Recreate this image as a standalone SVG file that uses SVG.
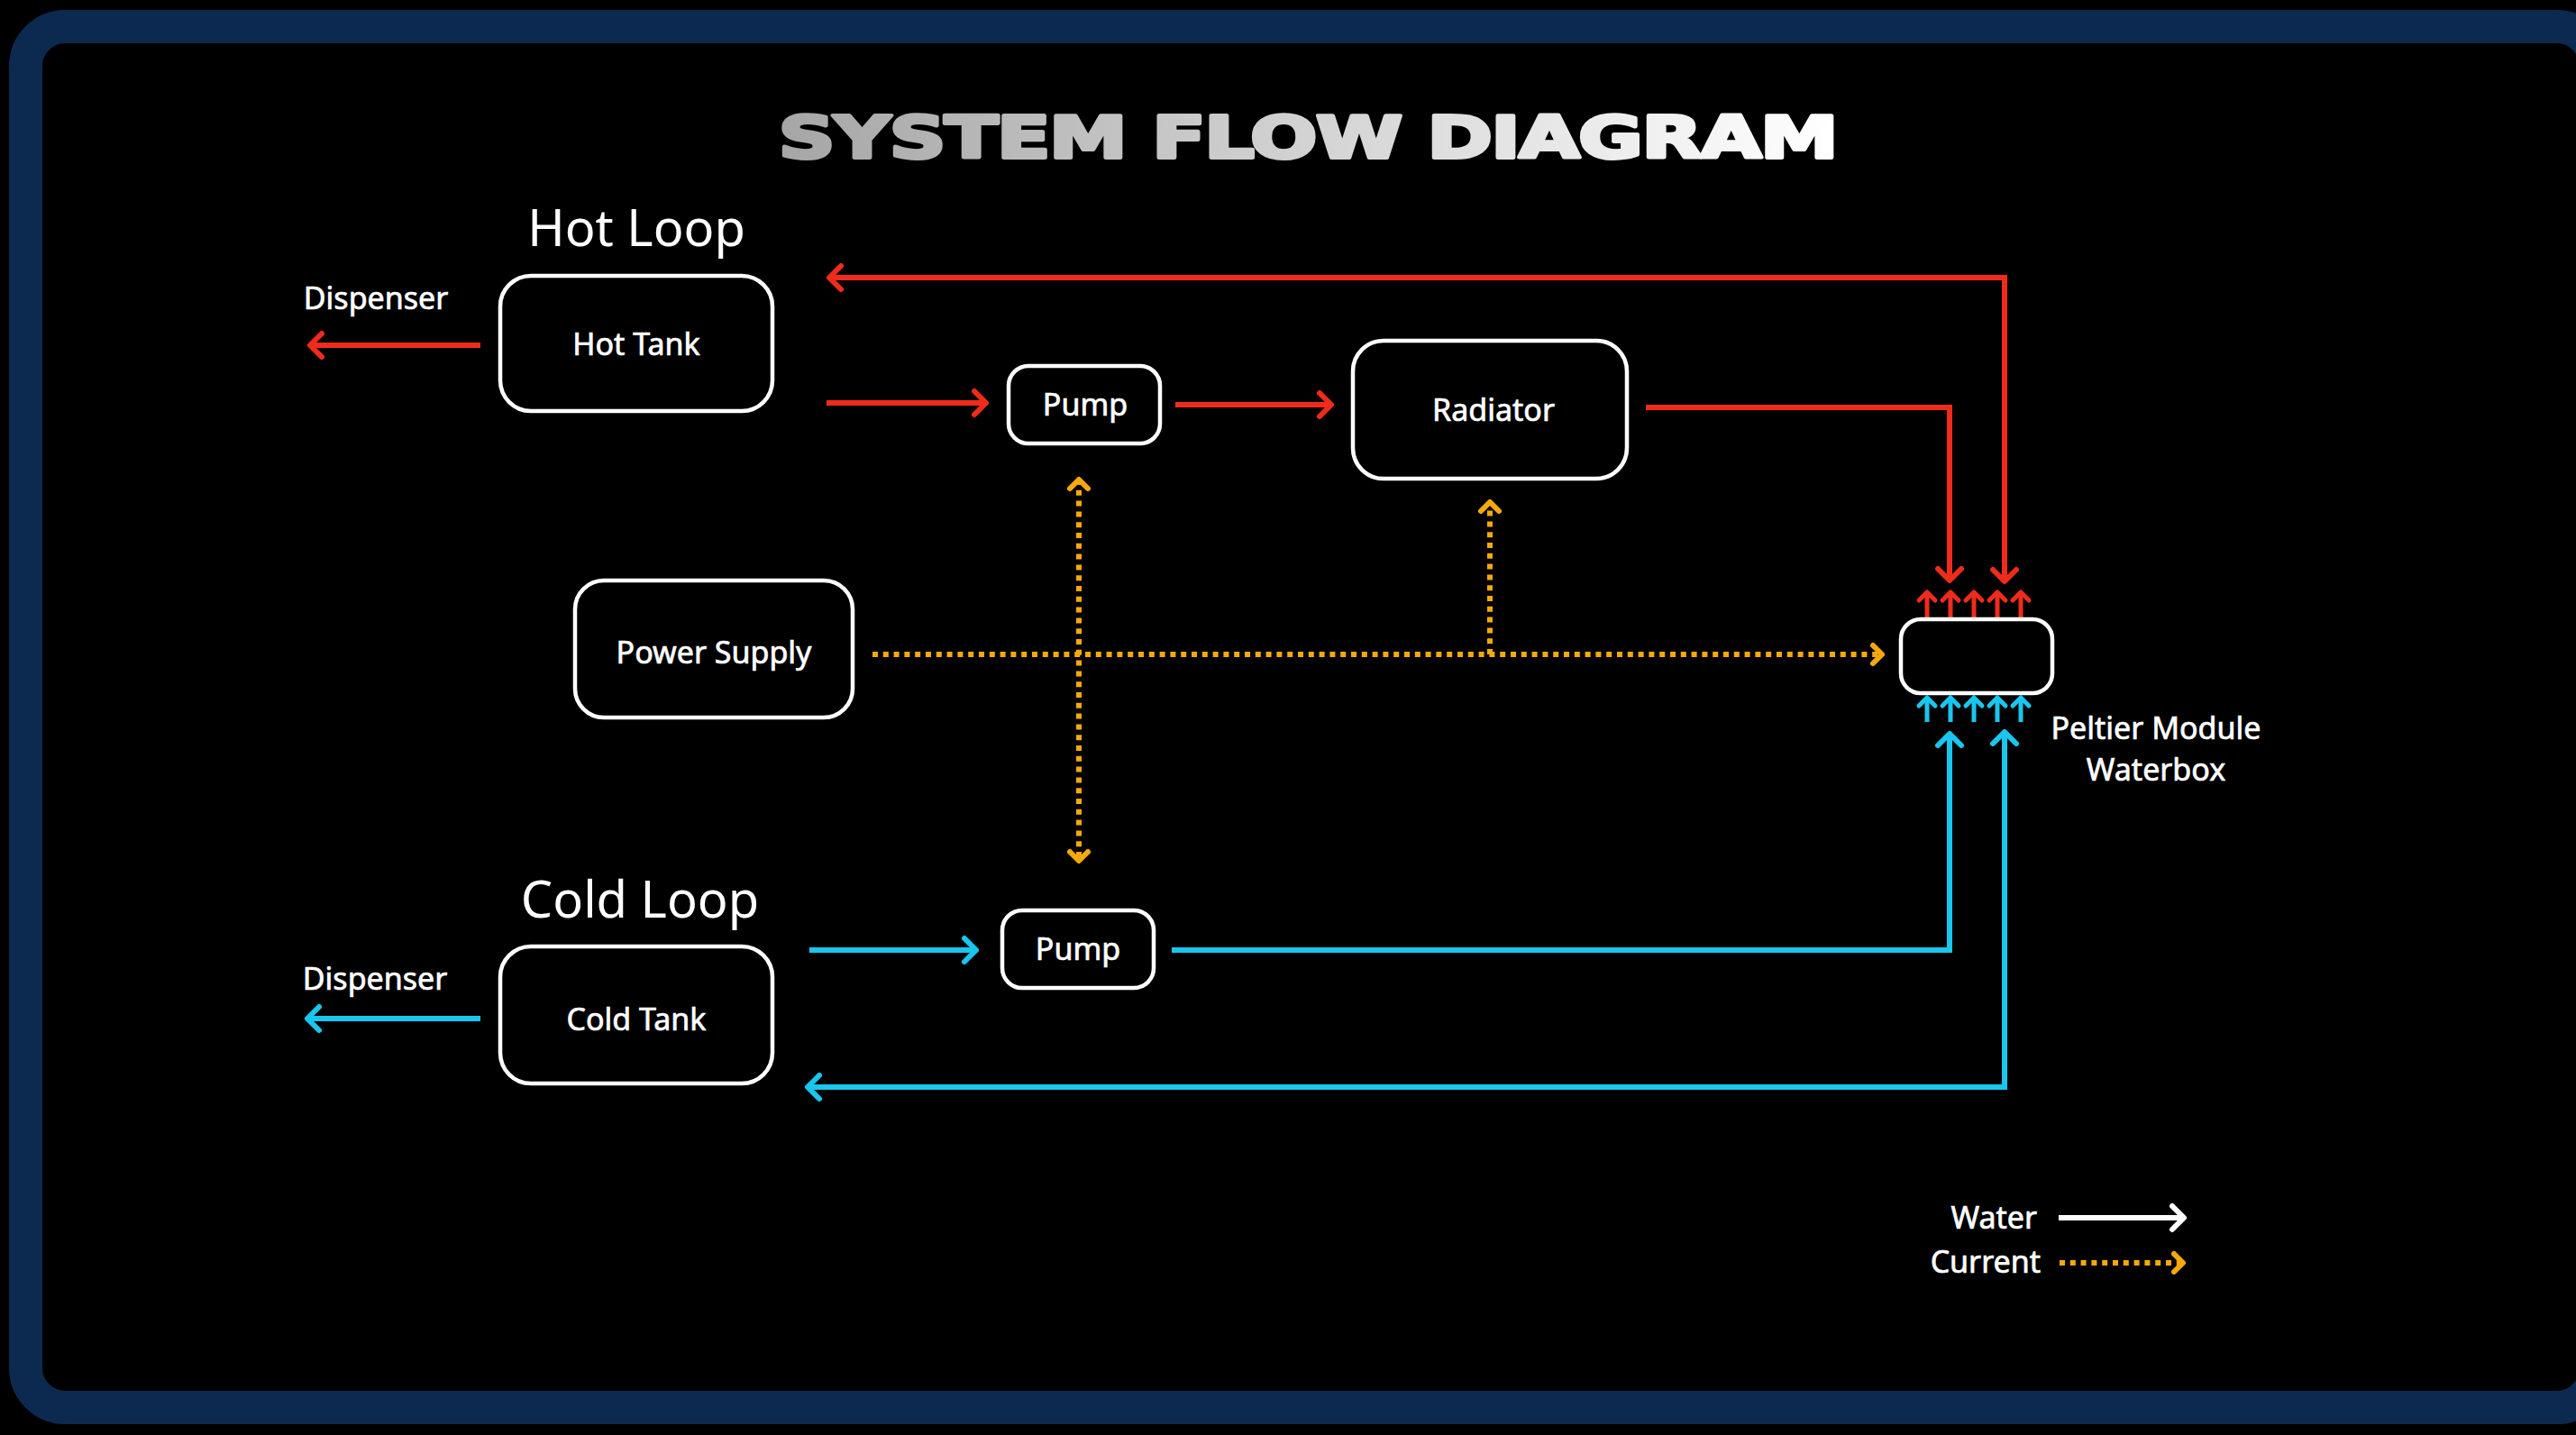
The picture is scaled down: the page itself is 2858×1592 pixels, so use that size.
<svg xmlns="http://www.w3.org/2000/svg" width="2858" height="1592" viewBox="0 0 2858 1592">
<defs>
<style>
.node{fill:#000;stroke:#fff;stroke-width:4.5}
.lbl{font-family:"Noto Sans","Open Sans",sans-serif;fill:#fff;stroke:#fff;stroke-width:0.7;font-size:34px}
.big{font-family:"Noto Sans","Open Sans",sans-serif;fill:#fff;font-size:56px}
.red{fill:none;stroke:#ef2c1c;stroke-width:6}
.cyan{fill:none;stroke:#19c6ee;stroke-width:6}
.cur{fill:none;stroke:#f5a90a;stroke-width:6;stroke-dasharray:6 5.8}
.wht{fill:none;stroke:#fff;stroke-width:6}
.mr{fill:none;stroke:#ef2c1c;stroke-width:6;stroke-linecap:round;stroke-linejoin:round}
.mc{fill:none;stroke:#19c6ee;stroke-width:6;stroke-linecap:round;stroke-linejoin:round}
.my{fill:none;stroke:#f5a90a;stroke-width:6;stroke-linecap:round;stroke-linejoin:round}
.mw{fill:none;stroke:#fff;stroke-width:6;stroke-linecap:round;stroke-linejoin:round}
.sr{fill:none;stroke:#ef2c1c;stroke-width:5}
.sc{fill:none;stroke:#19c6ee;stroke-width:5}
</style>
<linearGradient id="tg" gradientUnits="userSpaceOnUse" x1="1020" y1="0" x2="1880" y2="0">
<stop offset="0" stop-color="#a6a6a6"/>
<stop offset="1" stop-color="#ffffff"/>
</linearGradient>
<marker id="ar" markerUnits="userSpaceOnUse" viewBox="-20 -20 30 40" markerWidth="30" markerHeight="40" refX="0" refY="0" orient="auto-start-reverse"><path class="mr" d="M-13,-13 L0,0 L-13,13"/></marker>
<marker id="ac" markerUnits="userSpaceOnUse" viewBox="-20 -20 30 40" markerWidth="30" markerHeight="40" refX="0" refY="0" orient="auto-start-reverse"><path class="mc" d="M-13,-13 L0,0 L-13,13"/></marker>
<marker id="ay" markerUnits="userSpaceOnUse" viewBox="-20 -20 30 40" markerWidth="30" markerHeight="40" refX="0" refY="0" orient="auto-start-reverse"><path class="my" d="M-10,-10 L0,0 L-10,10"/></marker>
<marker id="aw" markerUnits="userSpaceOnUse" viewBox="-20 -20 30 40" markerWidth="30" markerHeight="40" refX="0" refY="0" orient="auto-start-reverse"><path class="mw" d="M-13,-13 L0,0 L-13,13"/></marker>
<marker id="sar" markerUnits="userSpaceOnUse" viewBox="-15 -15 20 30" markerWidth="20" markerHeight="30" refX="0" refY="0" orient="auto"><path class="mr" style="stroke-width:5" d="M-9,-9 L0,0 L-9,9"/></marker>
<marker id="sac" markerUnits="userSpaceOnUse" viewBox="-15 -15 20 30" markerWidth="20" markerHeight="30" refX="0" refY="0" orient="auto"><path class="mc" style="stroke-width:5" d="M-9,-9 L0,0 L-9,9"/></marker>
</defs>
<rect x="0" y="0" width="2858" height="1592" fill="#000"/>
<rect x="28.5" y="29.5" width="2852" height="1532" rx="44" fill="none" stroke="#0c2a50" stroke-width="37"/>

<text x="1451" y="175" text-anchor="middle" font-family="'DejaVu Sans',sans-serif" font-weight="bold" font-size="64" fill="url(#tg)" stroke="url(#tg)" stroke-width="4" stroke-linejoin="round" letter-spacing="-1" transform="translate(1451 0) scale(1.36 1) translate(-1451 0)">SYSTEM FLOW DIAGRAM</text>

<g id="connectors">
<path class="red" marker-end="url(#ar)" d="M533,383 H344"/>
<path class="red" marker-end="url(#ar)" d="M917,447 H1094"/>
<path class="red" marker-end="url(#ar)" d="M1304,449 H1477"/>
<path class="red" marker-end="url(#ar)" d="M1826,452 H2163 V644"/>
<path class="red" marker-start="url(#ar)" marker-end="url(#ar)" d="M920,308 H2224 V645"/>
<path class="cyan" marker-end="url(#ac)" d="M533,1130 H341"/>
<path class="cyan" marker-end="url(#ac)" d="M898,1054 H1083"/>
<path class="cyan" marker-end="url(#ac)" d="M1300,1054 H2163 V814"/>
<path class="cyan" marker-start="url(#ac)" marker-end="url(#ac)" d="M896,1206 H2224 V812"/>
<path class="cur" marker-end="url(#ay)" d="M968,726 H2088"/>
<path class="cur" marker-start="url(#ay)" marker-end="url(#ay)" d="M1197,532 V955"/>
<path class="cur" marker-end="url(#ay)" d="M1653,726 V557"/>
<g id="peltier-arrows">
<path class="sr" marker-end="url(#sar)" d="M2138,686 V657"/>
<path class="sr" marker-end="url(#sar)" d="M2164,686 V657"/>
<path class="sr" marker-end="url(#sar)" d="M2190,686 V657"/>
<path class="sr" marker-end="url(#sar)" d="M2216,686 V657"/>
<path class="sr" marker-end="url(#sar)" d="M2242,686 V657"/>
<path class="sc" marker-end="url(#sac)" d="M2138,801 V774"/>
<path class="sc" marker-end="url(#sac)" d="M2164,801 V774"/>
<path class="sc" marker-end="url(#sac)" d="M2190,801 V774"/>
<path class="sc" marker-end="url(#sac)" d="M2216,801 V774"/>
<path class="sc" marker-end="url(#sac)" d="M2242,801 V774"/>
</g>
</g>

<g id="hot-loop-label"><text class="big" x="706" y="273" text-anchor="middle">Hot Loop</text></g>
<g id="cold-loop-label"><text class="big" x="710" y="1018" text-anchor="middle">Cold Loop</text></g>
<g id="dispenser-hot"><text class="lbl" x="417" y="343" text-anchor="middle">Dispenser</text></g>
<g id="dispenser-cold"><text class="lbl" x="416" y="1098" text-anchor="middle">Dispenser</text></g>

<g id="hot-tank"><rect class="node" x="555" y="306" width="302" height="150" rx="34"/><text class="lbl" x="706" y="394" text-anchor="middle">Hot Tank</text></g>
<g id="pump-hot"><rect class="node" x="1119" y="406" width="168" height="86" rx="22"/><text class="lbl" x="1204" y="461" text-anchor="middle">Pump</text></g>
<g id="radiator"><rect class="node" x="1501" y="378" width="304" height="153" rx="34"/><text class="lbl" x="1657" y="467" text-anchor="middle">Radiator</text></g>
<g id="power-supply"><rect class="node" x="638" y="644" width="308" height="152" rx="32"/><text class="lbl" x="792" y="736" text-anchor="middle">Power Supply</text></g>
<g id="peltier"><rect class="node" x="2109" y="687" width="168" height="82" rx="22"/><text class="lbl" x="2392" y="820" text-anchor="middle">Peltier Module</text><text class="lbl" x="2392" y="866" text-anchor="middle">Waterbox</text></g>
<g id="cold-tank"><rect class="node" x="555" y="1050" width="302" height="152" rx="34"/><text class="lbl" x="706" y="1143" text-anchor="middle">Cold Tank</text></g>
<g id="pump-cold"><rect class="node" x="1112" y="1010" width="168" height="86" rx="22"/><text class="lbl" x="1196" y="1065" text-anchor="middle">Pump</text></g>

<g id="legend">
<text class="lbl" x="2260" y="1363" text-anchor="end">Water</text>
<text class="lbl" x="2264" y="1412" text-anchor="end">Current</text>
<path class="wht" marker-end="url(#aw)" d="M2284,1351 H2423"/>
<path class="cur" marker-end="url(#ay)" d="M2285,1401 H2422"/>
</g>
</svg>
